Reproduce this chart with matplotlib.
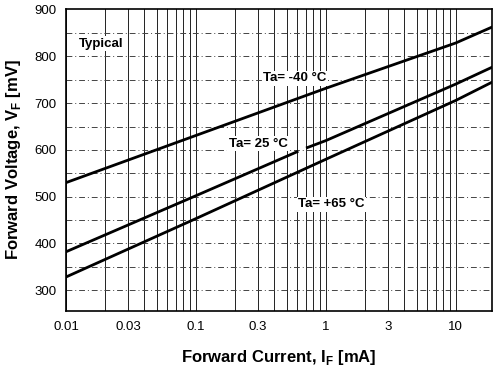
import matplotlib.pyplot as plt
from matplotlib.ticker import FixedLocator, NullFormatter

plt.rcParams['font.family'] = ['Liberation Sans', 'DejaVu Sans']

# forward current [mA] and forward voltage [mV]
i_m40 = [0.01, 0.1, 1, 10, 19]
v_m40 = [530, 631, 732, 829, 863]

i_25a = [0.01, 0.1, 0.6]
v_25a = [382, 502, 596]
i_25b = [0.72, 1, 10, 19]
v_25b = [605, 620, 741, 777]

i_p65 = [0.01, 0.1, 1, 10, 19]
v_p65 = [328, 453, 580, 706, 745]

xticks = [0.01, 0.03, 0.1, 0.3, 1, 3, 10]
xticklabels = ['0.01', '0.03', '0.1', '0.3', '1', '3', '10']
yticks = [300, 400, 500, 600, 700, 800, 900]

fig = plt.figure(figsize=(4.93, 3.69), dpi=100)
ax = fig.add_axes([0.134, 0.157, 0.864, 0.819])

ax.set_xscale('log')
ax.set_xlim(0.01, 19)
ax.set_ylim(255, 902)

# grid: solid verticals at every 1..9 of each decade, dash-dot horizontals every 50 mV
minor_x = [m * 10.0 ** d for d in range(-2, 2) for m in range(1, 10)]
for x in minor_x:
    if x <= 19:
        ax.axvline(x, color='#222222', lw=0.7, zorder=1)
for y in range(300, 900, 50):
    ax.axhline(y, color='#444444', lw=0.7, ls=(0, (6, 3, 1, 3)), zorder=1)

ax.plot(i_m40, v_m40, color='black', lw=2, zorder=3)
ax.plot(i_25a, v_25a, color='black', lw=2, zorder=3)
ax.plot(i_25b, v_25b, color='black', lw=2, zorder=3)
ax.plot(i_p65, v_p65, color='black', lw=2, zorder=3)

ax.xaxis.set_major_locator(FixedLocator(xticks))
ax.set_xticklabels(xticklabels)
ax.xaxis.set_minor_locator(FixedLocator([]))
ax.xaxis.set_minor_formatter(NullFormatter())
ax.set_yticks(yticks)
ax.tick_params(length=0, labelsize=9.5, pad=7)

for s in ax.spines.values():
    s.set_linewidth(1.2)

ax.set_xlabel('Forward Current, I$_{\\mathregular{F}}$ [mA]', fontsize=12,
              fontweight='bold', labelpad=11)
ax.set_ylabel('Forward Voltage, V$_{\\mathregular{F}}$ [mV]', fontsize=12,
              fontweight='bold', labelpad=8)

bbox = dict(facecolor='white', edgecolor='none', pad=1)
ax.text(0.0125, 827, 'Typical', fontsize=9.5, fontweight='bold', va='center', bbox=bbox, zorder=4)
ax.text(0.58, 753, 'Ta= -40 °C', fontsize=9.5, fontweight='bold', va='center', ha='center', bbox=bbox, zorder=4)
ax.text(0.3, 613, 'Ta= 25 °C', fontsize=9.5, fontweight='bold', va='center', ha='center', bbox=bbox, zorder=4)
ax.text(1.1, 484, 'Ta= +65 °C', fontsize=9.5, fontweight='bold', va='center', ha='center', bbox=bbox, zorder=4)

fig.savefig('out.png', dpi=100)
